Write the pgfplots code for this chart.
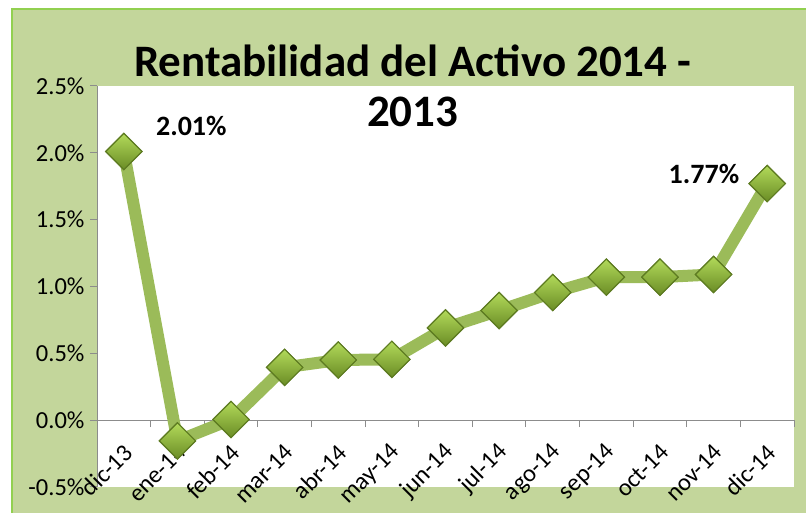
\documentclass[border=0pt]{standalone}
\usepackage{pgfplots}
\pgfplotsset{compat=1.18}
\usepackage{fontspec}
\setmainfont{Carlito}
\definecolor{bg}{HTML}{C3D69B}
\definecolor{bord}{HTML}{92D050}
\definecolor{lineg}{HTML}{9BBB59}
\definecolor{mtop}{HTML}{B2DA5A}
\definecolor{mbot}{HTML}{6A8C25}
\definecolor{medge}{HTML}{5E7C22}
\definecolor{axgray}{HTML}{8C8C8C}
\begin{document}
\begin{tikzpicture}[x=1pt,y=1pt]
\fill[white] (0,0) rectangle (806,513);
\fill[bg] (12,0) rectangle (806,504);
\draw[bord, line width=2pt] (12,0) -- (12,504) -- (806,504);
\begin{axis}[
  at={(97pt,26pt)}, anchor=south west, scale only axis,
  width=697pt, height=401pt,
  xmin=-0.5, xmax=12.5, ymin=-0.5, ymax=2.5,
  axis y line=left, axis x line=middle,
  axis line style={axgray, line width=1pt, -},
  axis background/.style={fill=white},
  xtick={0,...,12},
  xticklabels={dic-13,ene-14,feb-14,mar-14,abr-14,may-14,jun-14,jul-14,ago-14,sep-14,oct-14,nov-14,dic-14},
  minor xtick={-0.5,0.5,...,12.5},
  major x tick style={draw=none},
  minor x tick style={axgray, line width=1pt},
  ytick={-0.5,0,...,2.5},
  yticklabels={-0.5\%,0.0\%,0.5\%,1.0\%,1.5\%,2.0\%,2.5\%},
  y tick style={axgray, line width=1pt},
  tick align=outside, major tick length=7pt, minor tick length=7pt,
  hide obscured x ticks=false, hide obscured y ticks=false,
  ticklabel style={font=\fontsize{24.5}{28}\selectfont, text=black},
  yticklabel style={xshift=-2pt},
  xticklabel style={xshift=7pt, yshift=-19pt, rotate=45, anchor=east},
  clip=false,
  title={Rentabilidad del Activo 2014 -\\2013},
  title style={font=\bfseries\fontsize{45}{50}\selectfont, align=center,
    at={(axis description cs:0.453,1.089)}, anchor=north, inner sep=0pt},
]
\addplot[color=lineg, line width=12pt, line join=round, mark=none]
coordinates {(0,2.01) (1,-0.155) (2,0.005) (3,0.395) (4,0.45) (5,0.455) (6,0.69) (7,0.82) (8,0.955) (9,1.07) (10,1.07) (11,1.09) (12,1.77)};
\addplot[only marks, mark=square, mark size=12.9pt,
  mark options={rotate=45, draw=medge, line width=1pt},
  scatter,
  scatter/@pre marker code/.code={\shade[top color=mtop, bottom color=mbot] (0pt,18.2pt) -- (18.2pt,0pt) -- (0pt,-18.2pt) -- (-18.2pt,0pt) -- cycle;},
  scatter/@post marker code/.code={}]
coordinates {(0,2.01) (1,-0.155) (2,0.005) (3,0.395) (4,0.45) (5,0.455) (6,0.69) (7,0.82) (8,0.955) (9,1.07) (10,1.07) (11,1.09) (12,1.77)};
\node[font=\bfseries\fontsize{28}{32}\selectfont] at (axis cs:1.26,2.20) {2.01\%};
\node[font=\bfseries\fontsize{28}{32}\selectfont] at (axis cs:10.82,1.84) {1.77\%};
\end{axis}
\pgfresetboundingbox
\path[use as bounding box] (0,0) rectangle (806,513);
\end{tikzpicture}
\end{document}
